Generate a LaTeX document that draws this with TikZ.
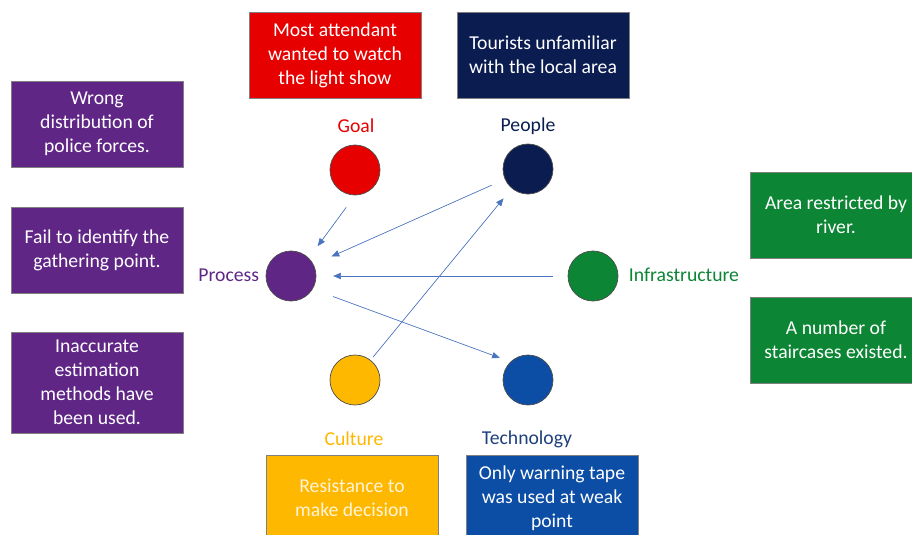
\documentclass[tikz,border=0pt]{standalone}
\usepackage{fontspec}
\setmainfont{Carlito}
\usetikzlibrary{arrows.meta}

\definecolor{goalred}{HTML}{E60000}
\definecolor{peoplenavy}{HTML}{0B1D50}
\definecolor{procpurple}{HTML}{5F2686}
\definecolor{infragreen}{HTML}{0C8534}
\definecolor{cultorange}{HTML}{FFB800}
\definecolor{techblue}{HTML}{0C4EA6}
\definecolor{techlabel}{HTML}{1E3F7C}
\definecolor{linkblue}{HTML}{4A74C0}

\begin{document}
\begin{tikzpicture}[x=0.025cm, y=-0.025cm,
    every node/.style={font=\fontsize{14}{17}\selectfont},
    factor/.style={circle, draw=black!70, line width=0.5pt, minimum size=1.25cm, inner sep=0pt},
    cause/.style={rectangle, draw=black!50, line width=0.4pt, minimum width=4.3cm, minimum height=2.15cm, align=center, text=white, inner sep=2pt},
    link/.style={-{Triangle[length=5.5pt, width=4.5pt]}, draw=linkblue, fill=linkblue, line width=0.45pt, shorten <=0.37cm, shorten >=0.37cm}]
    \useasboundingbox (0,0) rectangle (912,534);

    % factors
    \node[factor, fill=goalred] (goal) at (355,170) {};
    \node[factor, fill=peoplenavy] (people) at (528,169) {};
    \node[factor, fill=procpurple] (process) at (291,276) {};
    \node[factor, fill=infragreen] (infra) at (593,276) {};
    \node[factor, fill=cultorange] (culture) at (355,380) {};
    \node[factor, fill=techblue] (tech) at (528,380) {};

    % factor names
    \node[text=goalred] (goal-t) at (356,126) {Goal};
    \node[text=peoplenavy] (people-t) at (528,126) {People};
    \node[text=procpurple, anchor=east] (process-t) at (264,275) {Process};
    \node[text=infragreen, anchor=west] (infra-t) at (624,275) {Infrastructure};
    \node[text=cultorange] (culture-t) at (354,439) {Culture};
    \node[text=techlabel] (tech-t) at (527,439) {Technology};

    % causes
    \node[cause, fill=goalred] (goal-c) at (335,55) {Most attendant\\wanted to watch\\the light show};
    \node[cause, fill=peoplenavy] (people-c) at (543,55) {Tourists unfamiliar\\with the local area};
    \node[cause, fill=procpurple] (process-c1) at (97,124) {Wrong\\distribution of\\police forces.};
    \node[cause, fill=procpurple] (process-c2) at (97,250) {Fail to identify the\\gathering point.};
    \node[cause, fill=procpurple, minimum height=2.525cm] (process-c3) at (97,382.5) {Inaccurate\\estimation\\methods have\\been used.};
    \node[cause, fill=infragreen] (infra-c1) at (836,215) {Area restricted by\\river.};
    \node[cause, fill=infragreen] (infra-c2) at (836,340) {A number of\\staircases existed.};
    \node[cause, fill=cultorange, text=white!85!cultorange] (culture-c) at (352,498) {Resistance to\\make decision};
    \node[cause, fill=techblue] (tech-c) at (552,498) {Only warning tape\\was used at weak\\point};

    % influences
    \draw[link] (goal.south) -- (process.45);
    \draw[link, shorten <=0.36cm, shorten >=0.49cm] (people.204) -- (process.27);
    \draw[link, shorten >=0.42cm] (infra) -- (process);
    \draw[link, shorten <=0.54cm, shorten >=0.28cm] (process.-31) -- (tech.134);
    \draw[link, shorten <=0.1cm, shorten >=0.32cm] (culture.52) -- (people.230);
\end{tikzpicture}
\end{document}
